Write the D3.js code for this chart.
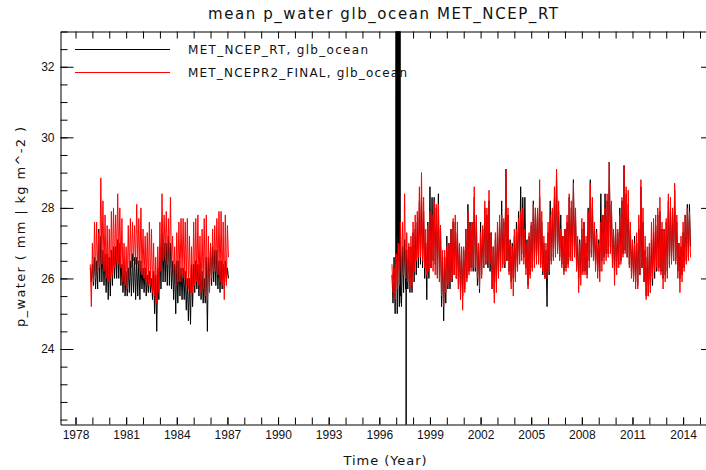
<!DOCTYPE html>
<html>
<head>
<meta charset="utf-8">
<script src="https://cdn.jsdelivr.net/npm/d3@7"></script>
<style>
  body { margin: 0; background: #fff; }
  svg { display: block; }
</style>
</head>
<body>
<script>
const width = 706;
const height = 470;

// plot box (right edge sits just outside the picture, like the reference)
const plotLeft = 60.5, plotRight = 714, plotTop = 31.5, plotBottom = 424.5;

// each series is read as a high and a low value per 1/8 year
const step = 0.125;

// MET_NCEP_RT, first segment, from 1978.875
const rtStart1 = 1978.875;
const rtHi1 = [
  26.3, 26.4, 26.6, 26.5, 27.4, 27.2, 26.8, 26.7, 26.7, 26.6,
  26.8, 26.9, 26.9, 27.1, 27.0, 26.4, 26.4, 26.2, 26.3, 26.5,
  26.7, 26.6, 26.6, 26.5, 26.5, 26.3, 26.3, 26.1, 26.2, 26.0,
  26.2, 26.1, 26.3, 26.9, 27.3, 27.0, 27.0, 27.2, 27.0, 26.5,
  26.4, 26.5, 26.5, 26.3, 26.3, 26.2, 26.0, 26.0, 26.4, 26.4,
  26.5, 26.4, 26.4, 26.2, 26.0, 26.6, 26.6, 26.9, 26.9, 26.8,
  26.8, 26.5, 26.5, 26.4, 26.5, 26.3
];
const rtLo1 = [
  25.9, 25.8, 25.7, 25.7, 25.9, 25.9, 25.8, 25.6, 25.4, 25.5,
  25.8, 26.0, 26.0, 26.0, 25.8, 25.6, 25.5, 25.5, 25.6, 25.5,
  25.6, 25.4, 25.5, 25.4, 25.7, 25.6, 25.5, 25.6, 25.6, 25.4,
  25.0, 24.5, 25.4, 25.7, 25.9, 25.9, 25.8, 25.8, 25.7, 25.4,
  25.0, 25.3, 25.5, 25.4, 25.4, 25.1, 24.8, 24.7, 25.2, 25.6,
  25.7, 25.5, 25.4, 25.3, 25.3, 24.5, 25.8, 25.8, 25.9, 25.8,
  25.7, 25.6, 25.7, 25.7, 25.9, 26.0
];

// MET_NCEPR2_FINAL, first segment, from 1978.875
const r2Start1 = 1978.875;
const r2Hi1 = [
  26.4, 27.0, 27.6, 27.6, 27.3, 28.85, 28.2, 27.8, 27.5, 27.4,
  27.9, 28.0, 27.8, 28.4, 28.0, 27.7, 27.0, 26.9, 27.5, 27.7,
  27.6, 27.5, 28.1, 27.7, 28.0, 27.4, 27.2, 27.3, 27.6, 27.4,
  27.0, 26.6, 26.9, 27.6, 28.4, 27.8, 27.9, 27.7, 28.3, 27.2,
  26.9, 27.3, 27.6, 27.7, 27.7, 27.6, 27.7, 27.2, 26.9, 27.6,
  27.7, 27.8, 27.2, 27.4, 27.7, 27.8, 27.2, 27.0, 27.4, 27.5,
  27.7, 27.9, 27.9, 27.6, 27.8, 27.5
];
const r2Lo1 = [
  25.2, 25.9, 26.0, 26.2, 26.3, 26.4, 26.2, 26.0, 25.9, 26.0,
  26.1, 26.3, 26.5, 26.4, 26.3, 25.9, 25.8, 25.7, 26.0, 26.3,
  26.5, 26.4, 26.4, 26.2, 26.1, 26.0, 25.9, 25.8, 25.8, 25.6,
  25.5, 25.3, 25.6, 26.2, 26.5, 26.6, 26.4, 26.4, 26.3, 26.0,
  25.8, 25.9, 25.9, 26.1, 26.0, 25.8, 25.7, 25.6, 25.6, 25.8,
  25.9, 25.8, 25.6, 25.7, 25.5, 25.4, 25.6, 26.0, 26.2, 26.2,
  26.1, 25.9, 25.8, 25.4, 25.8, 26.6
];

// MET_NCEP_RT, second segment, from 1996.75
const rtStart2 = 1996.75;
const rtHi2 = [
  26.1, 26.6, 26.4, 26.5, 26.8, 26.9, 27.1, 26.8, 26.9, 26.9,
  27.3, 27.4, 27.6, 28.2, 28.3, 27.9, 27.0, 27.6, 28.6, 28.3,
  28.3, 28.0, 28.4, 27.5, 26.6, 26.6, 27.2, 27.0, 27.4, 27.6,
  27.6, 27.3, 27.0, 26.8, 26.8, 27.4, 28.1, 27.6, 27.6, 28.3,
  27.6, 26.9, 27.6, 27.4, 28.0, 27.8, 28.2, 27.3, 26.9, 27.1,
  27.3, 27.6, 28.2, 27.6, 29.1, 27.8, 27.1, 27.0, 27.2, 27.6,
  27.9, 28.6, 28.3, 28.3, 27.1, 27.2, 27.5, 28.2, 28.0, 27.8,
  28.3, 27.6, 27.0, 26.8, 27.3, 28.2, 27.9, 28.3, 29.0, 27.9,
  27.8, 27.2, 27.4, 27.6, 28.3, 28.0, 28.8, 27.8, 27.0, 27.1,
  27.4, 27.6, 27.0, 28.0, 28.8, 28.0, 27.4, 27.4, 27.1, 28.4,
  27.8, 28.4, 28.2, 29.3, 28.1, 27.3, 27.4, 27.3, 28.0, 28.2,
  29.2, 28.4, 28.1, 27.4, 27.0, 27.2, 27.0, 27.4, 28.6, 27.6,
  26.8, 26.6, 26.9, 27.1, 27.3, 27.5, 27.8, 27.9, 27.4, 27.4,
  27.6, 28.2, 28.0, 27.8, 28.5, 27.6, 27.0, 26.9, 27.3, 27.8,
  28.1, 28.1
];
const rtLo2 = [
  25.3, 25.0, 25.0, 25.2, 25.2, 25.6, 25.7, 25.7, 25.6, 25.6,
  25.9, 26.1, 26.3, 26.4, 26.3, 26.0, 25.4, 26.0, 26.3, 26.5,
  26.4, 26.1, 25.9, 25.2, 24.8, 25.3, 25.7, 25.7, 25.9, 26.1,
  26.0, 25.7, 25.6, 25.5, 25.7, 26.0, 26.2, 26.3, 26.2, 26.2,
  25.8, 25.6, 26.1, 26.3, 26.4, 26.3, 26.2, 25.7, 25.6, 25.9,
  26.1, 26.3, 26.4, 26.3, 26.5, 26.2, 25.9, 26.0, 26.0, 26.3,
  26.5, 26.7, 26.6, 26.3, 25.8, 26.1, 26.3, 26.5, 26.6, 26.5,
  26.4, 26.1, 26.0, 25.2, 26.1, 26.5, 26.6, 26.7, 26.8, 26.6,
  26.4, 26.2, 26.3, 26.4, 26.6, 26.5, 26.7, 26.3, 26.0, 26.1,
  26.2, 26.2, 26.1, 26.5, 26.7, 26.6, 26.4, 26.2, 26.2, 26.5,
  26.6, 26.7, 26.7, 26.9, 26.5, 26.2, 26.3, 26.4, 26.5, 26.7,
  26.8, 26.6, 26.4, 26.2, 26.0, 25.9, 25.8, 26.1, 26.3, 25.9,
  25.5, 25.5, 25.6, 25.8, 26.0, 26.2, 26.3, 26.2, 26.0, 26.1,
  26.2, 26.4, 26.5, 26.5, 26.5, 26.2, 26.0, 26.1, 26.3, 26.5,
  26.6, 26.9
];

// MET_NCEP_RT bad values in 1997 (off the top / off the bottom), [year, value]
const rtSpike = [
  [1996.98, 26.4], [1996.99, 40], [1997.01, 27.0], [1997.03, 40],
  [1997.05, 26.8], [1997.07, 40], [1997.09, 27.2], [1997.11, 40],
  [1997.13, 26.5], [1997.15, 40], [1997.17, 25.9], [1997.19, 40],
  [1997.21, 25.3], [1997.23, 40], [1997.24, 25.5],
  [1997.585, 26.6], [1997.59, 10], [1997.595, 26.6]
];

// MET_NCEPR2_FINAL, second segment, from 1996.75
const r2Start2 = 1996.75;
const r2Hi2 = [
  26.4, 26.3, 26.7, 27.0, 27.6, 27.6, 28.4, 27.3, 27.0, 27.2,
  27.6, 27.8, 27.9, 28.6, 29.0, 28.3, 27.4, 27.5, 27.9, 27.8,
  28.2, 28.1, 28.1, 27.5, 26.8, 26.8, 26.9, 27.0, 27.4, 27.7,
  27.8, 27.6, 27.0, 26.9, 26.9, 27.4, 27.9, 27.5, 27.6, 28.6,
  27.8, 27.0, 27.3, 27.5, 28.2, 28.0, 28.5, 27.3, 26.9, 27.3,
  27.6, 27.8, 27.8, 27.7, 29.1, 28.0, 27.0, 26.9, 27.4, 27.4,
  27.7, 27.9, 28.0, 27.4, 27.0, 27.3, 27.6, 28.1, 28.0, 28.0,
  28.8, 27.9, 27.2, 27.0, 27.6, 27.8, 28.0, 28.6, 29.1, 28.2,
  27.4, 27.2, 27.4, 27.8, 28.4, 28.2, 28.7, 28.0, 27.2, 27.0,
  27.7, 27.6, 27.2, 27.9, 28.7, 28.3, 27.6, 27.3, 27.0, 27.6,
  27.8, 28.0, 28.4, 29.3, 28.2, 27.4, 27.6, 27.4, 27.8, 28.3,
  29.2, 28.6, 28.5, 27.6, 27.1, 27.0, 27.3, 27.8, 28.8, 28.0,
  27.2, 26.9, 27.0, 27.6, 27.7, 27.8, 28.0, 28.3, 27.6, 27.4,
  27.7, 28.4, 28.3, 28.0, 28.7, 27.8, 27.0, 27.2, 27.6, 27.8,
  28.0, 27.9
];
const r2Lo2 = [
  25.6, 25.4, 25.7, 25.8, 26.0, 26.1, 26.0, 25.9, 25.7, 25.8,
  26.2, 26.5, 26.6, 26.6, 26.5, 26.3, 26.1, 26.2, 26.3, 26.2,
  26.1, 26.0, 25.9, 25.5, 25.2, 25.6, 25.8, 25.9, 26.0, 26.1,
  26.0, 25.7, 25.4, 25.1, 25.6, 25.9, 26.1, 26.2, 26.3, 26.3,
  26.0, 25.7, 26.0, 26.3, 26.4, 26.5, 26.4, 25.7, 25.3, 25.6,
  26.0, 26.2, 26.3, 26.4, 26.5, 26.1, 25.7, 25.5, 25.9, 26.2,
  26.4, 26.5, 26.4, 26.1, 25.7, 26.0, 26.2, 26.3, 26.4, 26.4,
  26.3, 26.2, 26.0, 26.0, 26.2, 26.4, 26.5, 26.6, 26.7, 26.5,
  26.3, 26.1, 26.2, 26.3, 26.5, 26.5, 26.6, 26.2, 25.6, 25.8,
  26.1, 26.1, 26.0, 26.3, 26.6, 26.5, 26.2, 26.0, 25.9, 26.2,
  26.4, 26.5, 26.6, 26.7, 26.3, 25.8, 26.1, 26.3, 26.4, 26.6,
  26.7, 26.6, 26.3, 26.0, 25.9, 25.7, 25.7, 26.1, 26.3, 25.9,
  25.4, 25.5, 25.6, 26.0, 26.2, 26.3, 26.2, 26.1, 25.7, 25.9,
  26.0, 26.3, 26.4, 26.5, 26.4, 26.0, 25.6, 25.9, 26.2, 26.4,
  26.5, 26.6
];

const xMajor = d3.range(1978, 2015, 3);
const xMinor = d3.range(1978, 2016, 1);
const yMajor = [24, 26, 28, 30, 32];
const yMinor = d3.range(22, 33.01, 0.5);

const legendNames = ['MET_NCEP_RT, glb_ocean', 'MET_NCEPR2_FINAL, glb_ocean'];
const colors = ['#000000', '#ff0000'];

const x = d3.scaleLinear().domain([1977.11, 2015.83]).range([plotLeft, plotRight]);
const y = d3.scaleLinear().domain([21.86, 33.0]).range([plotBottom, plotTop]);

// high then low within each step
const toPoints = (start, hi, lo) =>
  hi.flatMap((h, i) => [[start + i * step, h], [start + (i + 0.5) * step, lo[i]]]);

const series = [
  { color: colors[0], segments: [
    toPoints(rtStart1, rtHi1, rtLo1),
    toPoints(rtStart2, rtHi2, rtLo2).concat(rtSpike).sort((a, b) => a[0] - b[0]),
  ]},
  { color: colors[1], segments: [
    toPoints(r2Start1, r2Hi1, r2Lo1),
    toPoints(r2Start2, r2Hi2, r2Lo2),
  ]},
];

const svg = d3.select('body')
  .append('svg')
  .attr('width', width)
  .attr('height', height)
  .style('font-family', '"DejaVu Sans", sans-serif');

svg.append('defs')
  .append('clipPath')
  .attr('id', 'plot-clip')
  .append('rect')
  .attr('x', plotLeft)
  .attr('y', plotTop)
  .attr('width', plotRight - plotLeft)
  .attr('height', plotBottom - plotTop);

// data
const line = d3.line().x(d => x(d[0])).y(d => y(d[1]));

svg.append('g')
  .attr('clip-path', 'url(#plot-clip)')
  .selectAll('g')
  .data(series)
  .join('g')
  .attr('stroke', d => d.color)
  .selectAll('path')
  .data(d => d.segments)
  .join('path')
  .attr('fill', 'none')
  .attr('stroke-width', 1)
  .attr('d', line);

// axes: IDL style, ticks pointing inward
function styleAxis(g) {
  g.selectAll('.domain').attr('stroke', '#000');
  g.selectAll('.tick line').attr('stroke', '#000');
  g.selectAll('.tick text')
    .attr('fill', '#111')
    .style('font-size', '12px');
}

svg.append('g')
  .attr('transform', `translate(0,${plotBottom})`)
  .call(d3.axisBottom(x).tickValues(xMinor).tickSize(-7).tickSizeOuter(0).tickFormat(''))
  .call(styleAxis);

svg.append('g')
  .attr('transform', `translate(0,${plotBottom})`)
  .call(d3.axisBottom(x).tickValues(xMajor).tickSize(-7).tickSizeOuter(0).tickPadding(6).tickFormat(d3.format('d')))
  .call(styleAxis)
  .call(g => g.select('.domain').remove());

svg.append('g')
  .attr('transform', `translate(0,${plotTop})`)
  .call(d3.axisTop(x).tickValues(xMinor).tickSize(-7).tickSizeOuter(0).tickFormat(''))
  .call(styleAxis);

svg.append('g')
  .attr('transform', `translate(${plotLeft},0)`)
  .call(d3.axisLeft(y).tickValues(yMinor).tickSize(-7).tickSizeOuter(0).tickFormat(''))
  .call(styleAxis);

svg.append('g')
  .attr('transform', `translate(${plotLeft},0)`)
  .call(d3.axisLeft(y).tickValues(yMajor).tickSize(-13).tickSizeOuter(0).tickPadding(6).tickFormat(d3.format('d')))
  .call(styleAxis)
  .call(g => g.select('.domain').remove());

svg.append('g')
  .attr('transform', `translate(${plotRight},0)`)
  .call(d3.axisRight(y).tickValues(yMinor).tickSize(-7).tickSizeOuter(0).tickFormat(''))
  .call(styleAxis);

svg.append('g')
  .attr('transform', `translate(${plotRight},0)`)
  .call(d3.axisRight(y).tickValues(yMajor).tickSize(-13).tickSizeOuter(0).tickFormat(''))
  .call(styleAxis)
  .call(g => g.select('.domain').remove());

// titles
svg.append('text')
  .attr('x', 383)
  .attr('y', 19)
  .attr('text-anchor', 'middle')
  .attr('textLength', 350)
  .attr('fill', '#111')
  .style('font-size', '15px')
  .text('mean p_water glb_ocean MET_NCEP_RT');

svg.append('text')
  .attr('x', 385)
  .attr('y', 465)
  .attr('text-anchor', 'middle')
  .attr('textLength', 83)
  .attr('fill', '#111')
  .style('font-size', '13px')
  .text('Time (Year)');

svg.append('text')
  .attr('transform', 'translate(25,227) rotate(-90)')
  .attr('text-anchor', 'middle')
  .attr('textLength', 200)
  .attr('fill', '#111')
  .style('font-size', '13px')
  .text('p_water ( mm | kg m^-2 )');

// legend
const legend = svg.append('g')
  .selectAll('g')
  .data(legendNames)
  .join('g')
  .attr('transform', (d, i) => `translate(0,${49.5 + i * 23})`);

legend.append('line')
  .attr('x1', 75)
  .attr('x2', 170)
  .attr('stroke', (d, i) => colors[i]);

legend.append('text')
  .attr('x', 188)
  .attr('y', 4)
  .attr('textLength', (d, i) => i === 0 ? 180 : 219)
  .attr('fill', '#111')
  .style('font-size', '12px')
  .text(d => d);
</script>
</body>
</html>
